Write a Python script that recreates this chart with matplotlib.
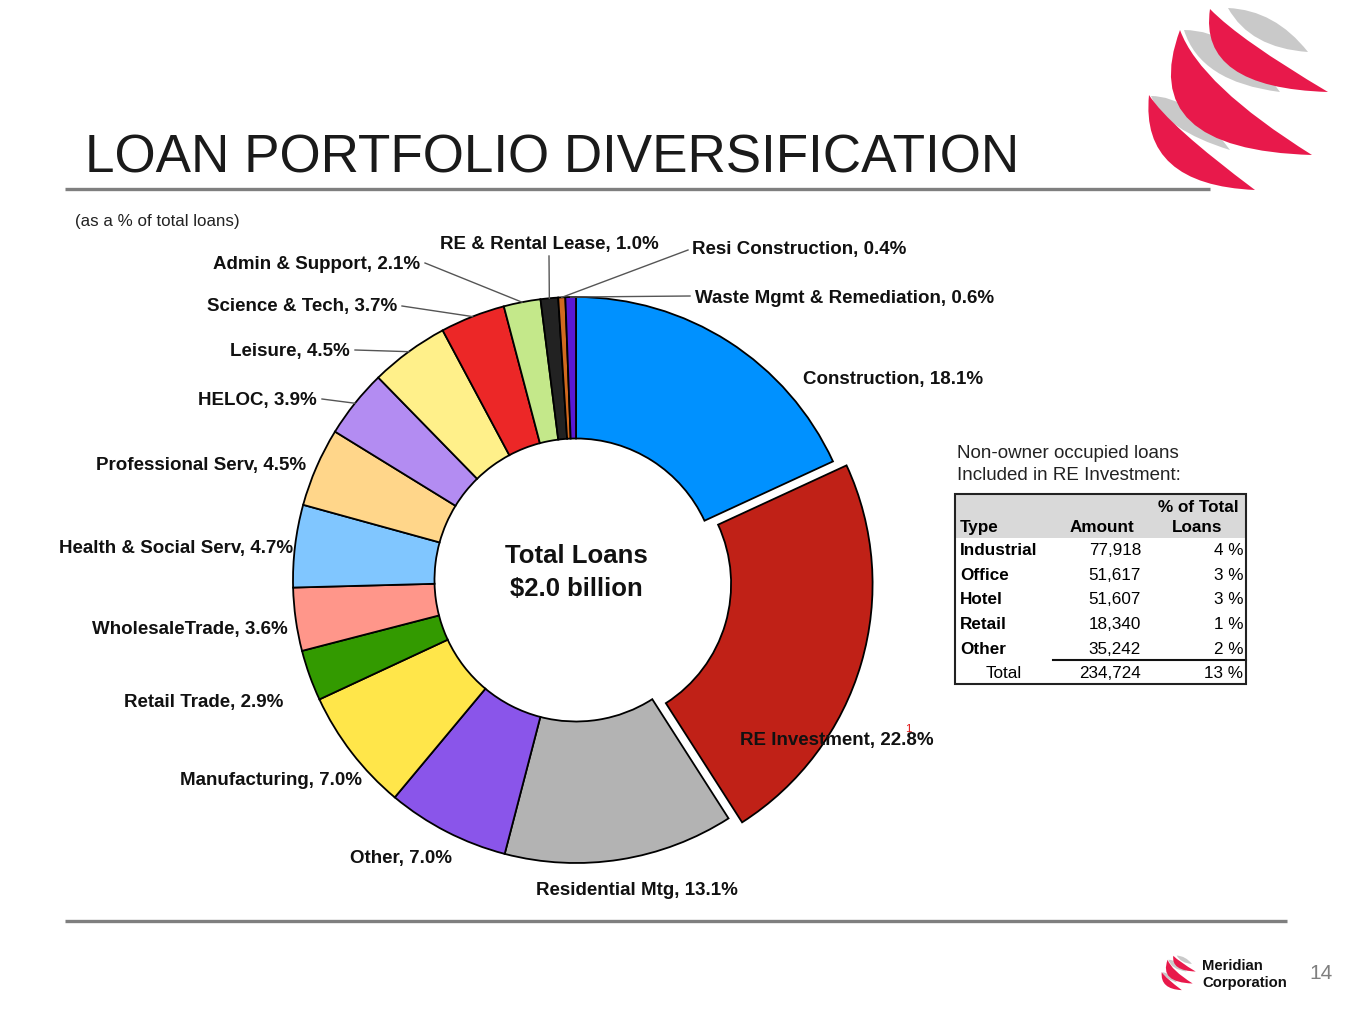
import matplotlib
matplotlib.use("Agg")
import matplotlib.pyplot as plt
from matplotlib.path import Path
from matplotlib.patches import PathPatch, Rectangle
import numpy as np

plt.rcParams['font.family'] = ['Liberation Sans', 'DejaVu Sans']

# ---------------- data ----------------
categories = ["Construction", "RE Investment", "Residential Mtg", "Other", "Manufacturing",
              "Retail Trade", "WholesaleTrade", "Health & Social Serv", "Professional Serv",
              "HELOC", "Leisure", "Science & Tech", "Admin & Support", "RE & Rental Lease",
              "Resi Construction", "Waste Mgmt & Remediation"]
values = [18.1, 22.8, 13.1, 7.0, 7.0, 2.9, 3.6, 4.7, 4.5, 3.9, 4.5, 3.7, 2.1, 1.0, 0.4, 0.6]
colors = ["#0091ff", "#c02117", "#b3b3b3", "#8a55ea", "#ffe64a", "#339a00", "#ff968a",
          "#80c6ff", "#ffd68a", "#b38cf2", "#fff08a", "#ec2727", "#c4e88a", "#222222",
          "#d2691e", "#5a18d4"]
explode_frac = [0, 0.05, 0, 0, 0, 0, 0, 0, 0, 0, 0, 0, 0, 0, 0, 0]

table_types = ["Industrial", "Office", "Hotel", "Retail", "Other"]
table_amounts = [77918, 51617, 51607, 18340, 35242]
table_pct = [4, 3, 3, 1, 2]
table_total_amount = 234724
table_total_pct = 13

W, H = 1365, 1024
fig = plt.figure(figsize=(W / 100, H / 100), dpi=100)
ax = fig.add_axes([0, 0, 1, 1])
ax.set_xlim(0, W)
ax.set_ylim(0, H)
ax.axis('off')


def Y(y):
    return H - y


def YT(y):
    # text baseline nudge
    return H - y - 1.5


# ---------------- title & rules ----------------
ax.text(85, YT(157), "LOAN PORTFOLIO DIVERSIFICATION", fontsize=38.2, color="#1a1a1a",
        ha='left', va='center')
ax.plot([65, 1210], [Y(189), Y(189)], color="#7f7f7f", lw=2.4, solid_capstyle='butt')
ax.plot([65, 1287], [Y(921), Y(921)], color="#7f7f7f", lw=2.4, solid_capstyle='butt')
ax.text(75, YT(220), "(as a % of total loans)", fontsize=12.2, color="#222222",
        ha='left', va='center')

# ---------------- donut ----------------
cx, cy, R = 576, Y(580), 283
ax.pie(values, colors=colors, explode=[e * R for e in explode_frac], startangle=90,
       counterclock=False, center=(cx, cy), radius=R, frame=True,
       wedgeprops=dict(width=R * 0.5, edgecolor="black", linewidth=1.3))
ax.set_xlim(0, W)
ax.set_ylim(0, H)
ax.set_aspect('equal')
ax.axis('off')

ax.text(cx, YT(571), "Total Loans\n$2.0 billion", fontsize=18.5, fontweight='bold',
        ha='center', va='center', linespacing=1.45, color="#111111")

# label positions (pixel coords) and alignment
label_pos = [(803, 378, 'left'), (740, 739, 'left'), (637, 889, 'center'), (401, 857, 'center'),
             (362, 779, 'right'), (283, 701, 'right'), (288, 628, 'right'), (293, 547, 'right'),
             (306, 464, 'right'), (317, 399, 'right'), (350, 350, 'right'), (397, 305, 'right'),
             (420, 263, 'right'), (549, 243, 'center'), (692, 248, 'left'), (695, 297, 'left')]
# leader line start points (near the label) for small slices
leader_start = {9: (322, 399), 10: (355, 350), 11: (402, 306), 12: (425, 263),
                13: (549, 256), 14: (688, 250), 15: (690, 296)}

total = sum(values)
cum = np.cumsum([0] + values)
for i, (name, v) in enumerate(zip(categories, values)):
    x, y, ha = label_pos[i]
    ax.text(x, YT(y), f"{name}, {v:.1f}%", fontsize=13.5, fontweight='bold',
            ha=ha, va='center', color="#111111", zorder=5)
    if i in leader_start:
        mid = 90 - 360 * (cum[i] + v / 2) / total
        ex = cx + R * np.cos(np.radians(mid))
        ey = cy + R * np.sin(np.radians(mid))
        sx, sy = leader_start[i]
        ax.plot([sx, ex], [Y(sy), ey], color="#555555", lw=1.0, zorder=4)

ax.text(908, Y(729), "1", fontsize=8, color="#e01010", ha='center', va='center', zorder=6)

# ---------------- table ----------------
ax.text(957, YT(452), "Non-owner occupied loans", fontsize=13.5, color="#222222",
        ha='left', va='center')
ax.text(957, YT(474), "Included in RE Investment:", fontsize=13.5, color="#222222",
        ha='left', va='center')

tx0, tx1, ty0, ty1 = 955, 1246, 494, 684
ax.add_patch(Rectangle((tx0, Y(538)), tx1 - tx0, 538 - ty0, facecolor="#d9d9d9",
                       edgecolor='none', zorder=2))
ax.add_patch(Rectangle((tx0, Y(ty1)), tx1 - tx0, ty1 - ty0, facecolor='none',
                       edgecolor="#222222", lw=1.5, zorder=3))
fs_t = 12.3
ax.text(960, YT(526), "Type", fontsize=fs_t, fontweight='bold', ha='left', va='center')
ax.text(1102, YT(526), "Amount", fontsize=fs_t, fontweight='bold', ha='center', va='center')
ax.text(1198, YT(506), "% of Total", fontsize=fs_t, fontweight='bold', ha='center', va='center')
ax.text(1197, YT(526), "Loans", fontsize=fs_t, fontweight='bold', ha='center', va='center')
row_y = [549, 574, 598, 623, 648]
for ry, t, a, p in zip(row_y, table_types, table_amounts, table_pct):
    ax.text(960, YT(ry), t, fontsize=fs_t, fontweight='bold', ha='left', va='center')
    ax.text(1141, YT(ry), f"{a:,}", fontsize=fs_t, ha='right', va='center')
    ax.text(1243, YT(ry), f"{p} %", fontsize=fs_t, ha='right', va='center')
ax.plot([1053, 1246], [Y(660), Y(660)], color="#111111", lw=1.5)
ax.text(1004, YT(672), "Total", fontsize=fs_t, ha='center', va='center')
ax.text(1141, YT(672), f"{table_total_amount:,}", fontsize=fs_t, ha='right', va='center')
ax.text(1243, YT(672), f"{table_total_pct} %", fontsize=fs_t, ha='right', va='center')


# ---------------- logos ----------------
def crescent(p1, p2, c_out, c_in):
    verts = [p1, c_out, p2, c_in, p1]
    codes = [Path.MOVETO, Path.CURVE3, Path.CURVE3, Path.CURVE3, Path.CURVE3]
    return verts, codes


red_shapes = [((1210, 9), (1328, 92), (1198, 88), (1240, 40)),
              ((1180, 30), (1312, 155), (1135, 150), (1200, 85)),
              ((1149, 95), (1255, 190), (1140, 185), (1168, 125))]
gray_shapes = [((1228, 8), (1308, 52), (1250, 48), (1275, 10)),
               ((1184, 30), (1280, 92), (1200, 82), (1235, 30)),
               ((1151, 96), (1230, 150), (1165, 130), (1190, 96))]


def draw_logo(ox, oy, s):
    def tr(p):
        return (ox + (p[0] - 1140) * s, Y(oy + (p[1] - 5) * s))
    for shp in gray_shapes:
        v, c = crescent(*[tr(p) for p in shp])
        ax.add_patch(PathPatch(Path(v, c), facecolor="#c9c9c9", edgecolor='none', zorder=2))
    for shp in red_shapes:
        v, c = crescent(*[tr(p) for p in shp])
        ax.add_patch(PathPatch(Path(v, c), facecolor="#e8194b", edgecolor='none', zorder=3))


draw_logo(1140, 5, 1.0)
draw_logo(1160, 955, 0.19)

ax.text(1202, YT(964), "Meridian", fontsize=10.7, fontweight='bold', ha='left', va='center',
        color="#111111")
ax.text(1202, YT(981), "Corporation", fontsize=10.7, fontweight='bold', ha='left', va='center',
        color="#111111")
ax.text(1321, YT(972), "14", fontsize=15, color="#7f7f7f", ha='center', va='center')

fig.savefig("out.png", dpi=100, facecolor='white')
